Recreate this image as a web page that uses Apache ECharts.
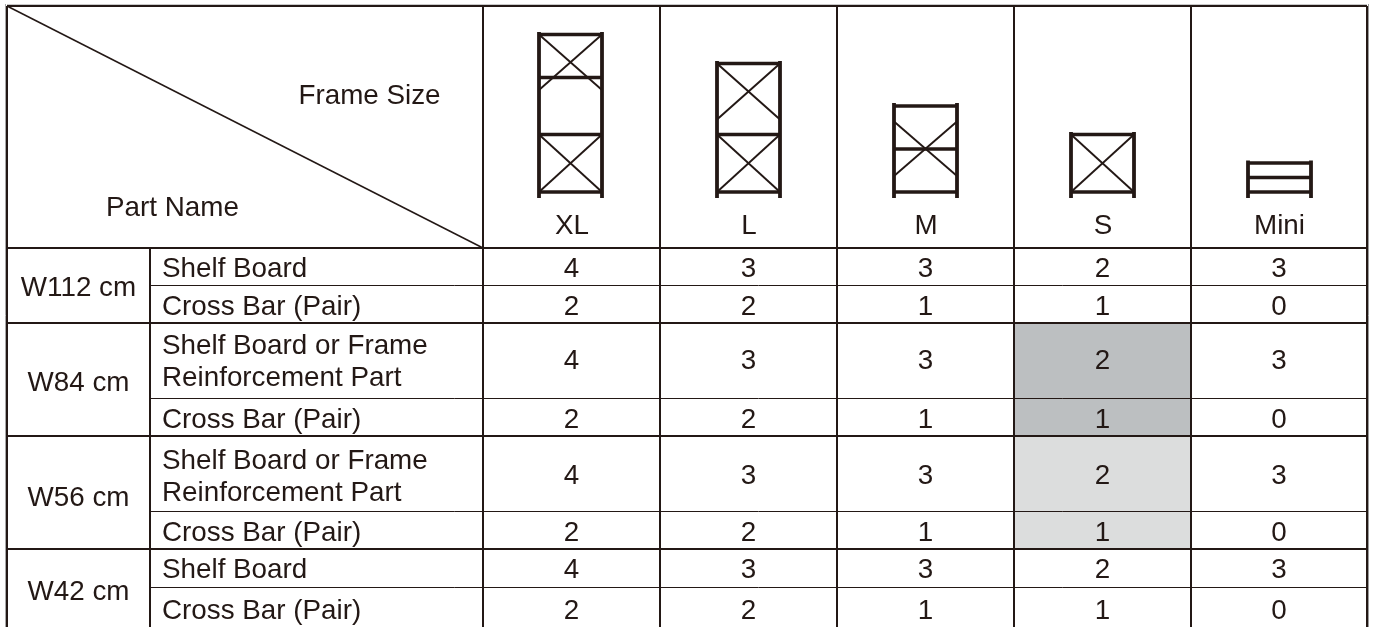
<!DOCTYPE html>
<html>
<head>
<meta charset="utf-8">
<style>html,body{margin:0;padding:0;background:#fff}#c{width:1373px;height:627px}</style>
<script src="https://cdn.jsdelivr.net/npm/echarts@6/dist/echarts.min.js"></script>
</head>
<body>
<div id="c"></div>
<script>
// ---- table content ----
var frameSizes = ['XL', 'L', 'M', 'S', 'Mini'];
var widthGroups = ['W112 cm', 'W84 cm', 'W56 cm', 'W42 cm'];
var partNames = [
  'Shelf Board', 'Cross Bar (Pair)',
  'Shelf Board or Frame\nReinforcement Part', 'Cross Bar (Pair)',
  'Shelf Board or Frame\nReinforcement Part', 'Cross Bar (Pair)',
  'Shelf Board', 'Cross Bar (Pair)'
];
var w112Shelf = [4, 3, 3, 2, 3];
var w112Cross = [2, 2, 1, 1, 0];
var w84Shelf  = [4, 3, 3, 2, 3];
var w84Cross  = [2, 2, 1, 1, 0];
var w56Shelf  = [4, 3, 3, 2, 3];
var w56Cross  = [2, 2, 1, 1, 0];
var w42Shelf  = [4, 3, 3, 2, 3];
var w42Cross  = [2, 2, 1, 1, 0];
var quantityRows = [w112Shelf, w112Cross, w84Shelf, w84Cross, w56Shelf, w56Cross, w42Shelf, w42Cross];

// ---- layout (axis units) ----
var INK = '#231815', FONT = '"Liberation Sans", Arial, sans-serif', FS = 27.8;
var colX = [483, 660, 837, 1014, 1191, 1367];
var rowY = [248, 285.5, 323, 398.5, 436, 511.5, 549, 587.5];
var rowTextY = [269.5, 307.5, 361.5, 420.5, 476.5, 533.5, 570.5, 611.5];
var partTextY = [269.5, 307.5, 362.5, 420.5, 477.5, 533.5, 570.5, 611.5];
var groupTextY = [288.5, 383.5, 498.5, 592];
var leftX = 7, topY = 6, groupX = 150;
var groupRowStart = [0, 2, 4, 6];
var shadedCells = [[3, 2, 4, '#bcbfc1'], [3, 4, 6, '#dcdddd']]; // column, from row, to row, colour

// frame icons: left post, right post, top, bottom, rails, crossed bays
var iconPosts = [[539, 602], [717, 780], [894, 957], [1071, 1134], [1248, 1311]];
var iconTops = [32, 61, 103, 132, 160.5];
var iconBottom = 198;
var iconRails = [[34.5, 77.5, 134.5, 192], [63.5, 134.5, 192], [106, 149, 192], [134.5, 192], [163, 177.5, 192]];
var iconBays = [[[34.5, 90], [134.5, 192]], [[63.5, 119.5], [134.5, 192]], [[121.5, 176]], [[134.5, 192]], []];

// ---- build lines ----
var lines = [];
function hline(x1, x2, y, w, c) { lines.push([x1, y, x2, y, w, c]); }
function vline(x, y1, y2, w, c) { lines.push([x, y1, x, y2, w, c]); }
hline(leftX, colX[5], 4.5, 1, '#c9c9c9');
vline(5.5, 4, 627, 1, '#a8a8a8');
vline(1368.5, 4, 627, 1, '#9a9a9a');
hline(leftX, colX[5], topY, 2);
rowY.forEach(function (y, r) {
  var thick = groupRowStart.indexOf(r) >= 0;
  hline(thick ? leftX : groupX, colX[5], y, thick ? 2 : 1);
});
vline(leftX, topY, 627, 2);
vline(groupX, rowY[0], 627, 2);
colX.forEach(function (x) { vline(x, topY, 627, 2); });
lines.push([leftX, topY, colX[0], rowY[0], 1.5]);

var cells = [];
quantityRows.forEach(function (row, r) {
  row.forEach(function (v, c) { cells.push([c, r, v]); });
});

function textEl(api, x, y, s, align) {
  var p = api.coord([x, y]);
  return { type: 'text', style: { x: p[0], y: p[1], text: s, fill: INK, font: FS + 'px ' + FONT,
    align: align || 'center', verticalAlign: 'middle', lineHeight: 32 } };
}
function lineEl(api, x1, y1, x2, y2, w, c) {
  var a = api.coord([x1, y1]), b = api.coord([x2, y2]);
  return { type: 'line', shape: { x1: a[0], y1: a[1], x2: b[0], y2: b[1] }, style: { stroke: c || INK, lineWidth: w } };
}

var option = {
  animation: false,
  backgroundColor: '#ffffff',
  grid: { left: 0, right: 0, top: 0, bottom: 0 },
  xAxis: { type: 'value', min: 0, max: 1373, show: false },
  yAxis: { type: 'value', min: 0, max: 627, inverse: true, show: false },
  series: [
    { type: 'custom', clip: false, silent: true, z: 1, data: shadedCells,
      renderItem: function (p, api) {
        var d = shadedCells[p.dataIndex];
        var a = api.coord([colX[d[0]], rowY[d[1]]]), b = api.coord([colX[d[0] + 1], rowY[d[2]]]);
        return { type: 'rect', shape: { x: a[0], y: a[1], width: b[0] - a[0], height: b[1] - a[1] }, style: { fill: d[3] } };
      } },
    { type: 'custom', clip: false, silent: true, z: 2, data: lines,
      renderItem: function (p, api) {
        var d = lines[p.dataIndex];
        return lineEl(api, d[0], d[1], d[2], d[3], d[4], d[5]);
      } },
    { type: 'custom', clip: false, silent: true, z: 3, data: frameSizes,
      renderItem: function (p, api) {
        var i = p.dataIndex, xs = iconPosts[i], kids = [];
        iconBays[i].forEach(function (b) {
          kids.push(lineEl(api, xs[0], b[0], xs[1], b[1], 1.9));
          kids.push(lineEl(api, xs[1], b[0], xs[0], b[1], 1.9));
        });
        iconRails[i].forEach(function (y) { kids.push(lineEl(api, xs[0], y, xs[1], y, 3.4)); });
        xs.forEach(function (x) { kids.push(lineEl(api, x, iconTops[i], x, iconBottom, 3.8)); });
        kids.push(textEl(api, (colX[i] + colX[i + 1]) / 2 + 0.5, 226, frameSizes[i]));
        return { type: 'group', children: kids };
      } },
    { type: 'custom', clip: false, silent: true, z: 4, data: cells,
      renderItem: function (p, api) {
        var d = cells[p.dataIndex];
        return textEl(api, (colX[d[0]] + colX[d[0] + 1]) / 2, rowTextY[d[1]], String(d[2]));
      } },
    { type: 'custom', clip: false, silent: true, z: 4, data: partNames,
      renderItem: function (p, api) {
        return textEl(api, 162, partTextY[p.dataIndex], partNames[p.dataIndex], 'left');
      } },
    { type: 'custom', clip: false, silent: true, z: 4, data: widthGroups,
      renderItem: function (p, api) {
        return textEl(api, 78.5, groupTextY[p.dataIndex], widthGroups[p.dataIndex]);
      } },
    { type: 'custom', clip: false, silent: true, z: 4, data: ['Frame Size', 'Part Name'],
      renderItem: function (p, api) {
        return p.dataIndex === 0 ? textEl(api, 369.5, 96, 'Frame Size') : textEl(api, 172.5, 208, 'Part Name');
      } }
  ]
};
echarts.init(document.getElementById('c'), null, { renderer: 'canvas' }).setOption(option);
</script>
</body>
</html>
